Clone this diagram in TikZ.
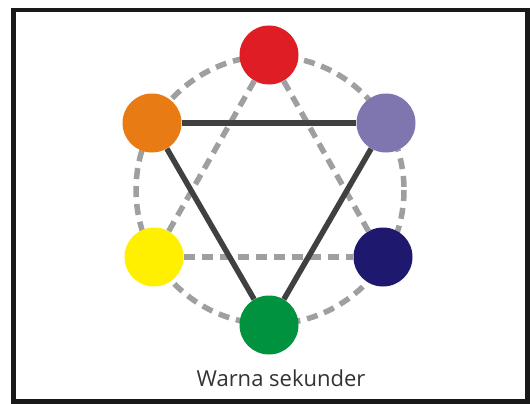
\documentclass[tikz,border=0pt]{standalone}
\usepackage{fontspec}
\setmainfont{Open Sans}
\begin{document}
\begin{tikzpicture}[x=1pt,y=-1pt,
  dot/.style={circle,minimum size=59pt,inner sep=0pt,draw=none},
  ring/.style={draw=gray!75,line width=5.5pt,dash pattern=on 11pt off 7pt},
  tri/.style={draw=black!75,line width=5.5pt},
  frame/.style={draw=black!90,line width=4.5pt}]
\useasboundingbox (0,0) rectangle (530,404);
\fill[white] (0,0) rectangle (530,404);
\draw[frame] (13.5,10) rectangle (527.5,401.5);
\coordinate (c) at (270,190);
\draw[ring] (c) circle[radius=134];
\node[dot,fill={rgb,255:red,222;green,30;blue,36}] (red) at (269,55) {};
\node[dot,fill={rgb,255:red,232;green,123;blue,20}] (orange) at (152,123) {};
\node[dot,fill={rgb,255:red,127;green,118;blue,176}] (purple) at (386,123) {};
\node[dot,fill={rgb,255:red,255;green,240;blue,0}] (yellow) at (154,257) {};
\node[dot,fill={rgb,255:red,30;green,24;blue,110}] (navy) at (383,257) {};
\node[dot,fill={rgb,255:red,0;green,146;blue,63}] (green) at (269,325) {};
\draw[ring] (red) -- (yellow);
\draw[ring] (red) -- (navy);
\draw[ring] (yellow) -- (navy);
\draw[tri] (orange) -- (purple);
\draw[tri] (orange) -- (green);
\draw[tri] (purple) -- (green);
\node[text=black!80,font=\fontsize{22}{24}\selectfont] (label) at (281,378) {Warna sekunder};
\end{tikzpicture}
\end{document}
